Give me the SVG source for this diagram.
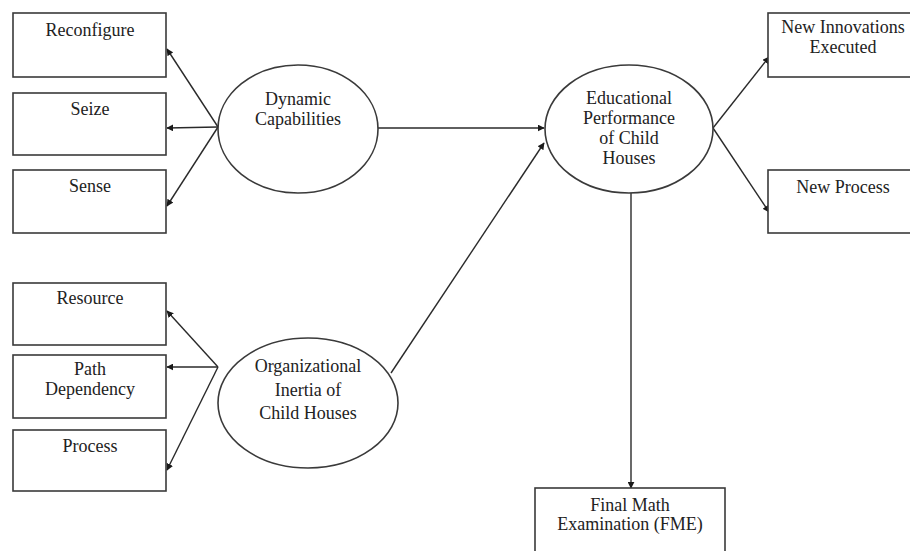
<svg xmlns="http://www.w3.org/2000/svg" width="910" height="551" viewBox="0 0 910 551">
<style>
.box{fill:#fff;stroke:#3a3a3a;stroke-width:1.6}
.ell{fill:#fff;stroke:#3a3a3a;stroke-width:1.6}
.t{font-family:"Liberation Serif","Times New Roman",serif;font-size:18px;fill:#222;text-anchor:middle}
.c{stroke:#2a2a2a;stroke-width:1.4;fill:none;marker-end:url(#ah)}
</style>
<defs>
<marker id="ah" viewBox="0 0 10 10" refX="9" refY="5" markerWidth="7" markerHeight="7" markerUnits="userSpaceOnUse" orient="auto">
<path d="M0,0 L10,5 L0,10 z" fill="#1a1a1a"/>
</marker>
</defs>
<rect width="910" height="551" fill="#fff"/>
<g id="connectors">
<line class="c" x1="218" y1="127" x2="167" y2="49"/>
<line class="c" x1="218" y1="127" x2="167" y2="128"/>
<line class="c" x1="218" y1="127" x2="167" y2="206"/>
<line class="c" x1="378" y1="128" x2="544" y2="128"/>
<line class="c" x1="218" y1="367" x2="167" y2="311"/>
<line class="c" x1="218" y1="367" x2="167" y2="367"/>
<line class="c" x1="218" y1="367" x2="167" y2="470"/>
<line class="c" x1="391" y1="373" x2="544" y2="143"/>
<line class="c" x1="713" y1="128" x2="769" y2="57"/>
<line class="c" x1="713" y1="128" x2="769" y2="212"/>
<line class="c" x1="631" y1="193" x2="631" y2="488"/>
</g>
<g id="reconfigure"><rect class="box" x="13" y="13" width="153" height="64"/><text class="t" x="90" y="36">Reconfigure</text></g>
<g id="seize"><rect class="box" x="13" y="93" width="153" height="62"/><text class="t" x="90" y="115">Seize</text></g>
<g id="sense"><rect class="box" x="13" y="170" width="153" height="63"/><text class="t" x="90" y="192">Sense</text></g>
<g id="dynamic"><ellipse class="ell" cx="298" cy="129" rx="80" ry="64"/><text class="t" x="298" y="105">Dynamic</text><text class="t" x="298" y="125">Capabilities</text></g>
<g id="educational"><ellipse class="ell" cx="629" cy="129" rx="84" ry="64"/><text class="t" x="629" y="104">Educational</text><text class="t" x="629" y="124">Performance</text><text class="t" x="629" y="144">of Child</text><text class="t" x="629" y="164">Houses</text></g>
<g id="newinnov"><rect class="box" x="768" y="13" width="150" height="64"/><text class="t" x="843" y="33">New Innovations</text><text class="t" x="843" y="53">Executed</text></g>
<g id="newprocess"><rect class="box" x="768" y="170" width="150" height="63"/><text class="t" x="843" y="193">New Process</text></g>
<g id="resource"><rect class="box" x="13" y="283" width="153" height="62"/><text class="t" x="90" y="304">Resource</text></g>
<g id="pathdep"><rect class="box" x="13" y="355" width="153" height="63"/><text class="t" x="90" y="375">Path</text><text class="t" x="90" y="395">Dependency</text></g>
<g id="process"><rect class="box" x="13" y="430" width="153" height="61"/><text class="t" x="90" y="452">Process</text></g>
<g id="orginertia"><ellipse class="ell" cx="308" cy="403" rx="90" ry="65"/><text class="t" x="308" y="372">Organizational</text><text class="t" x="308" y="396">Inertia of</text><text class="t" x="308" y="419">Child Houses</text></g>
<g id="fme"><rect class="box" x="535" y="488" width="190" height="70"/><text class="t" x="630" y="511">Final Math</text><text class="t" x="630" y="530">Examination (FME)</text></g>
</svg>
